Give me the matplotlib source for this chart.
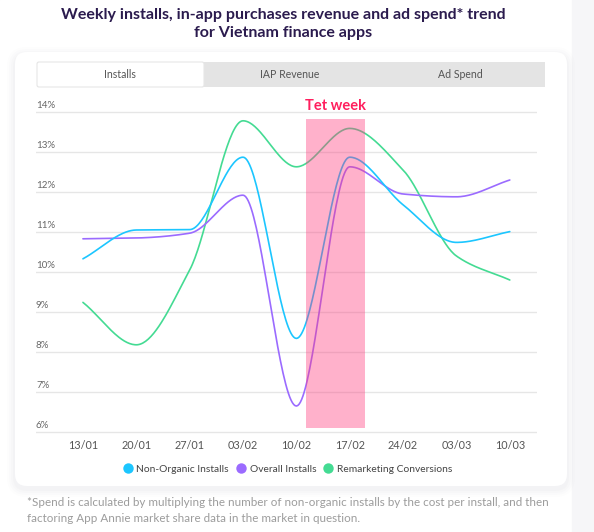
"""
Weekly installs trend for Vietnam finance apps (Installs tab).
"""

import numpy as np
import matplotlib
matplotlib.use("Agg")
import matplotlib.pyplot as plt
from matplotlib.patches import FancyBboxPatch, Rectangle
from matplotlib.lines import Line2D

W, H = 594, 532

weeks = ["13/01", "20/01", "27/01", "03/02", "10/02", "17/02", "24/02", "03/03", "10/03"]
non_organic = [10.33, 11.05, 11.06, 12.87, 8.34, 12.87, 11.68, 10.74, 11.01]
overall = [10.83, 10.85, 10.97, 11.92, 6.65, 12.63, 11.95, 11.88, 12.30]
remarketing = [9.24, 8.18, 10.05, 13.78, 12.63, 13.59, 12.55, 10.40, 9.80]
y_ticks = [6, 7, 8, 9, 10, 11, 12, 13, 14]
tabs = ["Installs", "IAP Revenue", "Ad Spend"]
tet_span = (4.18, 5.28)

C_NON = "#1cc6ff"
C_ALL = "#9b6bff"
C_REM = "#44db93"
FONT = "Lato"


def smooth(y, n=40):
    # monotone cubic (pchip-style) so the curve never overshoots the points
    x = np.arange(len(y), dtype=float)
    y = np.asarray(y, dtype=float)
    d = np.diff(y)
    m = np.zeros_like(y)
    m[0], m[-1] = d[0], d[-1]
    for k in range(1, len(y) - 1):
        if d[k - 1] * d[k] > 0:
            m[k] = 2.0 / (1.0 / d[k - 1] + 1.0 / d[k])
    xs, ys = [], []
    for k in range(len(y) - 1):
        t = np.linspace(0, 1, n, endpoint=(k == len(y) - 2))
        h00 = 2 * t**3 - 3 * t**2 + 1
        h10 = t**3 - 2 * t**2 + t
        h01 = -2 * t**3 + 3 * t**2
        h11 = t**3 - t**2
        xs.append(x[k] + t)
        ys.append(h00 * y[k] + h10 * m[k] + h01 * y[k + 1] + h11 * m[k + 1])
    return np.concatenate(xs), np.concatenate(ys)


fig = plt.figure(figsize=(W / 100, H / 100), dpi=100)
fig.patch.set_facecolor("#f7f7f9")

# background layer in pixel coordinates
bg = fig.add_axes([0, 0, 1, 1], zorder=-1)
bg.set_xlim(0, W)
bg.set_ylim(H, 0)
bg.axis("off")
bg.add_patch(Rectangle((0, 0), W, H, color="white", zorder=0))
bg.add_patch(Rectangle((572, 0), W - 572, H, color="#f6f6f8", zorder=0))

# card with soft shadow
for i, a in enumerate([0.015, 0.02, 0.025, 0.03]):
    g = 8 - 2 * i
    bg.add_patch(FancyBboxPatch((15 - g, 52 - g + 3), 552 + 2 * g, 434 + 2 * g,
                                boxstyle="round,pad=0,rounding_size=%d" % (12 + g),
                                fc="#8a8a9a", ec="none", alpha=a, zorder=1))
bg.add_patch(FancyBboxPatch((15, 52), 552, 434, boxstyle="round,pad=0,rounding_size=12",
                            fc="white", ec="none", zorder=2))

# tabs
bg.add_patch(Rectangle((37, 62), 508, 25, fc="#e4e4e4", ec="none", zorder=3))
bg.add_patch(FancyBboxPatch((37, 62), 167, 25, boxstyle="round,pad=0,rounding_size=2",
                            fc="white", ec="#e6e6e6", lw=0.8, zorder=4))
for label, cx in zip(tabs, [120, 290, 460]):
    bg.text(cx, 74.5, label, ha="center", va="center", fontsize=7.6,
            color="#555555", family=FONT, zorder=5)

# title and footnote
bg.text(283, 15, "Weekly installs, in-app purchases revenue and ad spend* trend",
        ha="center", va="center", fontsize=11.5, fontweight="bold",
        color="#2b1b4e", family=FONT)
bg.text(283, 33.5, "for Vietnam finance apps", ha="center", va="center",
        fontsize=11.5, fontweight="bold", color="#2b1b4e", family=FONT)
bg.text(27, 502, "*Spend is calculated by multiplying the number of non-organic installs "
        "by the cost per install, and then", ha="left", va="center", fontsize=8.4,
        color="#9c9c9c", family=FONT)
bg.text(27, 519, "factoring App Annie market share data in the market in question.",
        ha="left", va="center", fontsize=8.4, color="#9c9c9c", family=FONT)

# main chart
y0, y1 = 5.95, 14.05
px_per = 40.0
top_px = 112 - (y1 - 14) * px_per
bot_px = 432 + (6 - y0) * px_per
ax = fig.add_axes([36 / W, 1 - bot_px / H, 501 / W, (bot_px - top_px) / H])
ax.set_facecolor("none")
ax.set_xlim(-0.88, 8.51)
ax.set_ylim(y0, y1)
for s in ax.spines.values():
    s.set_visible(False)
for v in y_ticks:
    ax.axhline(v, color="#e6e6e6", lw=1.0, zorder=1)
    ax.annotate(f"{v}%", (-0.88, v), xytext=(0, 1.5), textcoords="offset points",
                ha="left", va="bottom", fontsize=7.0, color="#666666", family=FONT)
ax.set_yticks([])
ax.set_xticks(range(len(weeks)), weeks)
ax.tick_params(axis="x", length=0, pad=4, labelsize=7.8, labelcolor="#555555")
for t in ax.get_xticklabels():
    t.set_family(FONT)

for vals, c in [(remarketing, C_REM), (overall, C_ALL), (non_organic, C_NON)]:
    xs, ys = smooth(vals)
    ax.plot(xs, ys, color=c, lw=1.2, zorder=3, solid_capstyle="round")

ax.axvspan(tet_span[0], tet_span[1], ymin=(6.1 - y0) / (y1 - y0),
           ymax=(13.83 - y0) / (y1 - y0), color="#ff3d7f", alpha=0.4, lw=0, zorder=4)
ax.text(sum(tet_span) / 2, 14.15, "Tet week", ha="center", va="center",
        fontsize=10.5, fontweight="bold", color="#ff1f5e", family=FONT)

handles = [Line2D([], [], ls="none", marker="o", ms=7.5, mec="none", mfc=c)
           for c in (C_NON, C_ALL, C_REM)]
fig.legend(handles, ["Non-Organic Installs", "Overall Installs", "Remarketing Conversions"],
           loc="center", bbox_to_anchor=(287 / W, 1 - 469 / H), ncol=3, frameon=False,
           handletextpad=0.2, columnspacing=0.6, handlelength=1.2,
           prop={"family": FONT, "size": 7.4}, labelcolor="#444444")

fig.savefig("out.png", dpi=100, facecolor=fig.get_facecolor())
